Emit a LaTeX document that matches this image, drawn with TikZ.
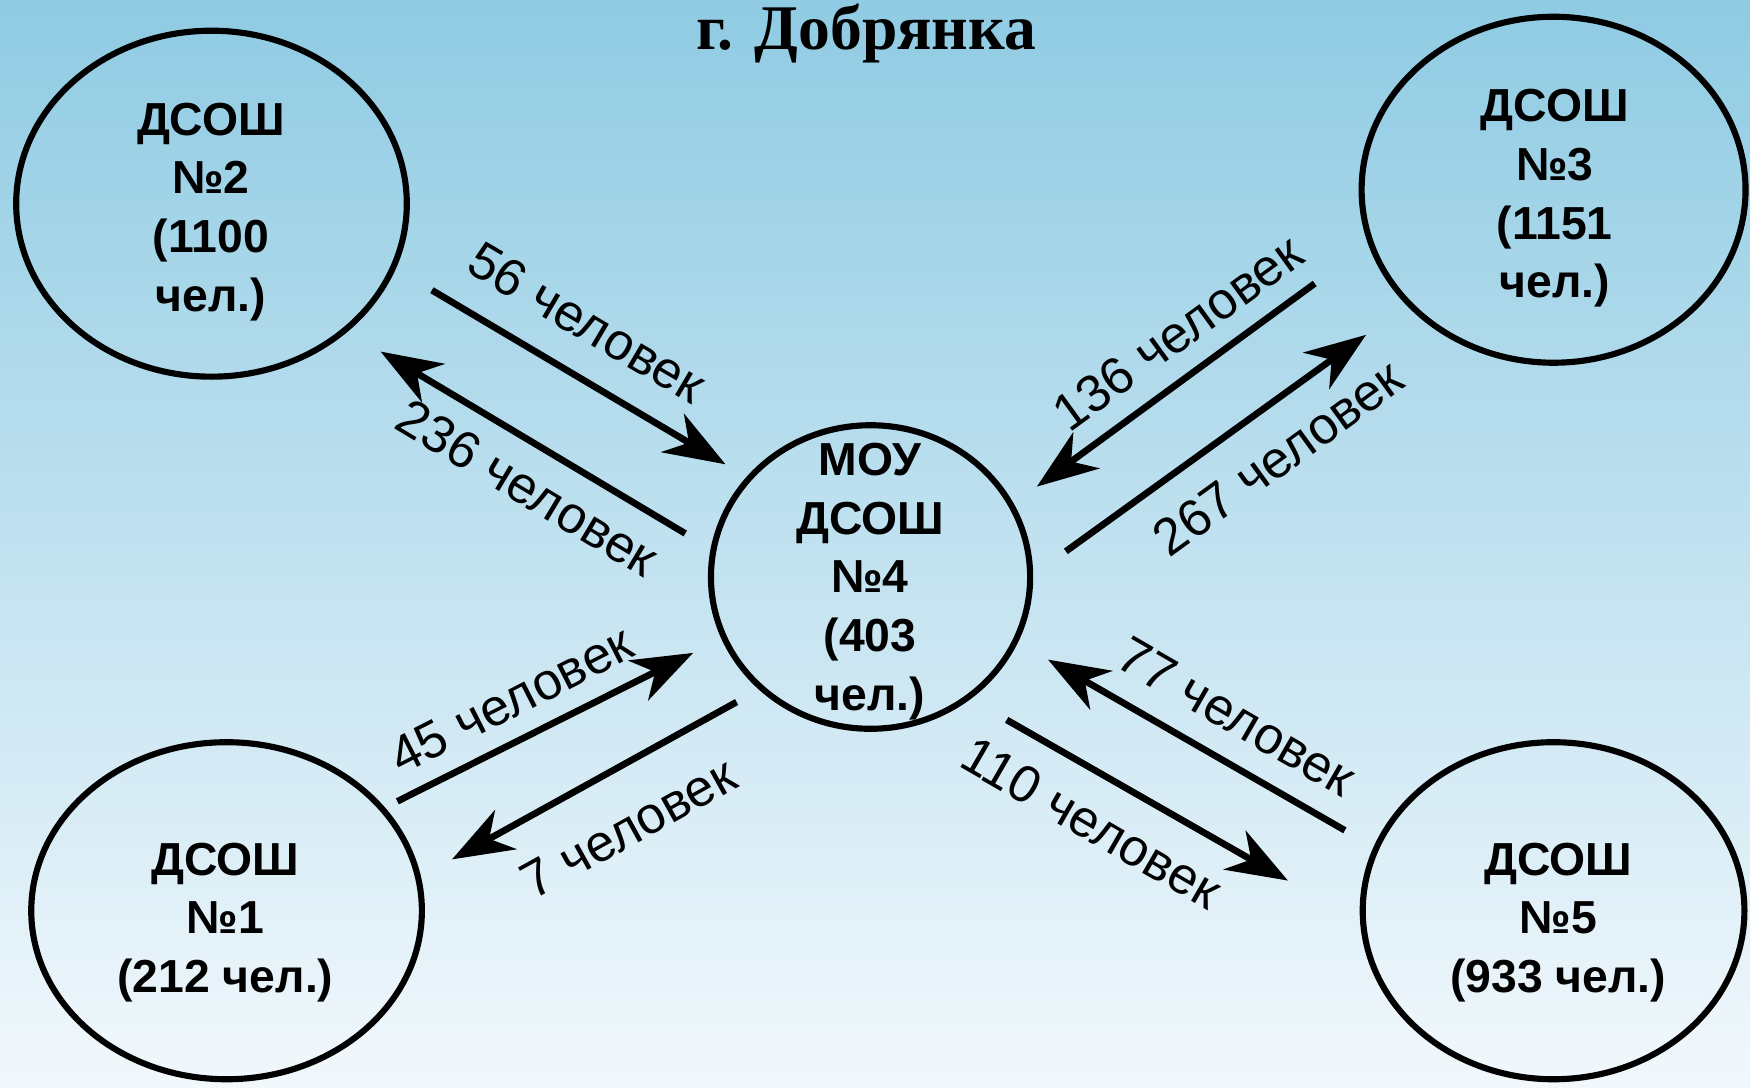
\documentclass[tikz,border=0pt]{standalone}
\usepackage{fontspec}
\setmainfont{Liberation Sans}
\newfontfamily\titlefont{Liberation Serif}
\usetikzlibrary{shapes.geometric,arrows.meta}
\definecolor{bgtop}{RGB}{143,203,227}
\definecolor{bgbot}{RGB}{242,248,252}
\begin{document}
\begin{tikzpicture}[x=1pt,y=-1pt,
  school/.style={ellipse, draw, line width=5.5pt, inner sep=0pt},
  schooltext/.style={anchor=north, inner sep=0pt, align=center, font=\fontsize{41.5}{52.5}\selectfont\bfseries},
  flow/.style={line width=6pt, -{Stealth[length=55pt,width=40pt,inset=17pt]}},
  flowlabel/.style={inner sep=0pt, font=\fontsize{46.5}{54}\selectfont}]
\useasboundingbox (0,0) rectangle (1568,974.8);
\shade[top color=bgtop, bottom color=bgbot] (0,0) rectangle (1568,974.8);

% title
\node[anchor=base, inner sep=0pt, font=\titlefont\bfseries\fontsize{57}{60}\selectfont] (title) at (776,44) {г. Добрянка};

% schools
\node[school, minimum width=350pt, minimum height=310pt] (s2) at (189.5,182.5) {};
\node[school, minimum width=344pt, minimum height=310pt] (s3) at (1392,170) {};
\node[school, minimum width=350pt, minimum height=302pt] (s1) at (203,816) {};
\node[school, minimum width=342pt, minimum height=302pt] (s5) at (1392,816) {};
\node[school, minimum width=286pt, minimum height=272pt] (s4) at (780,517) {};

\node[schooltext] (t2) at (189,92) {ДСОШ\\№2\\(1100\\чел.)};
\node[schooltext] (t3) at (1393,80) {ДСОШ\\№3\\(1151\\чел.)};
\node[schooltext] (t4) at (779.5,397) {МОУ\\ДСОШ\\№4\\(403\\чел.)};
\node[schooltext] (t1) at (202,755) {ДСОШ\\№1\\(212 чел.)};
\node[schooltext] (t5) at (1396,755) {ДСОШ\\№5\\(933 чел.)};

% arrow end points
\coordinate (a56s) at (387,260);   \coordinate (a56e) at (650,416);
\coordinate (a236s) at (614,478);  \coordinate (a236e) at (341,315);
\coordinate (a136s) at (1178,254); \coordinate (a136e) at (929,436);
\coordinate (a267s) at (955,494);  \coordinate (a267e) at (1224,300);
\coordinate (a45s) at (356,718);   \coordinate (a45e) at (621,585);
\coordinate (a7s) at (660,629);    \coordinate (a7e) at (405,770);
\coordinate (a77s) at (1205,744);  \coordinate (a77e) at (939,591);
\coordinate (a110s) at (902,645);  \coordinate (a110e) at (1154,789);

\draw[flow] (a56s) -- (a56e);
\draw[flow] (a236s) -- (a236e);
\draw[flow] (a136s) -- (a136e);
\draw[flow] (a267s) -- (a267e);
\draw[flow] (a45s) -- (a45e);
\draw[flow] (a7s) -- (a7e);
\draw[flow] (a77s) -- (a77e);
\draw[flow] (a110s) -- (a110e);

% labels
\node[flowlabel, rotate=-30.5] (l56) at (526,289) {56 человек};
\node[flowlabel, rotate=-31] (l236) at (473,437) {236 человек};
\node[flowlabel, rotate=36] (l136) at (1055,298) {136 человек};
\node[flowlabel, rotate=36] (l267) at (1145,410) {267 человек};
\node[flowlabel, rotate=27] (l45) at (458,627) {45 человек};
\node[flowlabel, rotate=29] (l7) at (563,742) {7 человек};
\node[flowlabel, rotate=-30] (l77) at (1108,642) {77 человек};
\node[flowlabel, rotate=-30] (l110) at (978,737) {110 человек};
\end{tikzpicture}
\end{document}
